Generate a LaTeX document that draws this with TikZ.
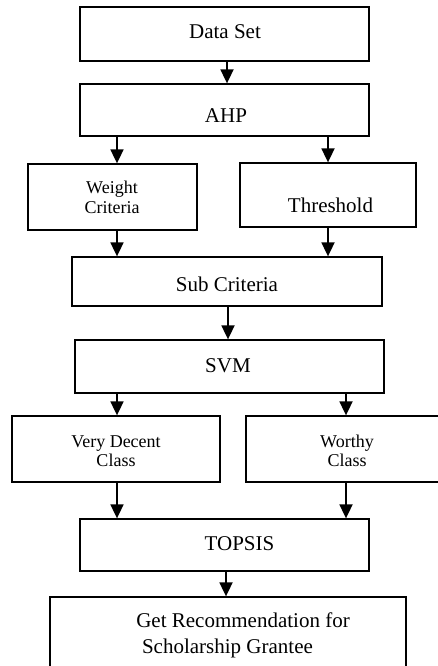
\documentclass[tikz,border=0pt]{standalone}
\usepackage{fontspec}
\setmainfont{Liberation Serif}
\usetikzlibrary{arrows.meta}
\begin{document}
\begin{tikzpicture}[x=1pt,y=-1pt,
  box/.style={draw=black, line width=1.3pt, rectangle, inner sep=0pt},
  big/.style={font=\fontsize{21}{25}\selectfont, anchor=base, inner sep=0pt},
  small/.style={font=\fontsize{18}{21}\selectfont, anchor=base, inner sep=0pt},
  arr/.style={line width=1.8pt, -{Triangle[width=13pt,length=14pt]}}]
\useasboundingbox (0,0) rectangle (438,666);
\clip (0,0) rectangle (438,666);
% boxes
\node[box, minimum width=289pt, minimum height=54pt] (ds)  at (224.5,34) {};
\node[box, minimum width=289pt, minimum height=52pt] (ahp) at (224.5,110) {};
\node[box, minimum width=169pt, minimum height=66pt] (wc)  at (112.5,197) {};
\node[box, minimum width=176pt, minimum height=64pt] (th)  at (328,195) {};
\node[box, minimum width=310pt, minimum height=49pt] (sc)  at (227,281.5) {};
\node[box, minimum width=309pt, minimum height=53pt] (svm) at (229.5,366.5) {};
\node[box, minimum width=208pt, minimum height=66pt] (vd)  at (116,449) {};
\node[box, minimum width=202pt, minimum height=66pt] (wo)  at (347,449) {};
\node[box, minimum width=289pt, minimum height=52pt] (top) at (224.5,545) {};
\node[box, minimum width=356pt, minimum height=78pt] (get) at (228,636) {};
% texts
\node[big] (dst) at (225,39) {Data Set};
\node[big] (ahpt) at (226,123) {AHP};
\node[small] (wct1) at (112,193) {Weight};
\node[small] (wct2) at (112,213) {Criteria};
\node[big] (tht) at (330.5,212) {Threshold};
\node[big] (sct) at (227,291) {Sub Criteria};
\node[big] (svmt) at (228,372) {SVM};
\node[small] (vdt1) at (116,447) {Very Decent};
\node[small] (vdt2) at (116,466) {Class};
\node[small] (wot1) at (347,447) {Worthy};
\node[small] (wot2) at (347,466) {Class};
\node[big] (topt) at (239.5,550) {TOPSIS};
\node[big] (gett1) at (243,627) {Get Recommendation for};
\node[big] (gett2) at (227.5,653) {Scholarship Grantee};
% connectors
\draw[arr] (ds.south -| 227,0) -- (ahp.north -| 227,0);
\draw[arr] (ahp.south -| 117,0) -- (wc.north -| 117,0);
\draw[arr] (ahp.south -| 328,0) -- (th.north -| 328,0);
\draw[arr] (wc.south -| 117,0) -- (sc.north -| 117,0);
\draw[arr] (th.south -| 328,0) -- (sc.north -| 328,0);
\draw[arr] (sc.south -| 228,0) -- (svm.north -| 228,0);
\draw[arr] (svm.south -| 117,0) -- (vd.north -| 117,0);
\draw[arr] (svm.south -| 346,0) -- (wo.north -| 346,0);
\draw[arr] (vd.south -| 117,0) -- (top.north -| 117,0);
\draw[arr] (wo.south -| 346,0) -- (top.north -| 346,0);
\draw[arr] (top.south -| 226,0) -- (get.north -| 226,0);
\end{tikzpicture}
\end{document}
